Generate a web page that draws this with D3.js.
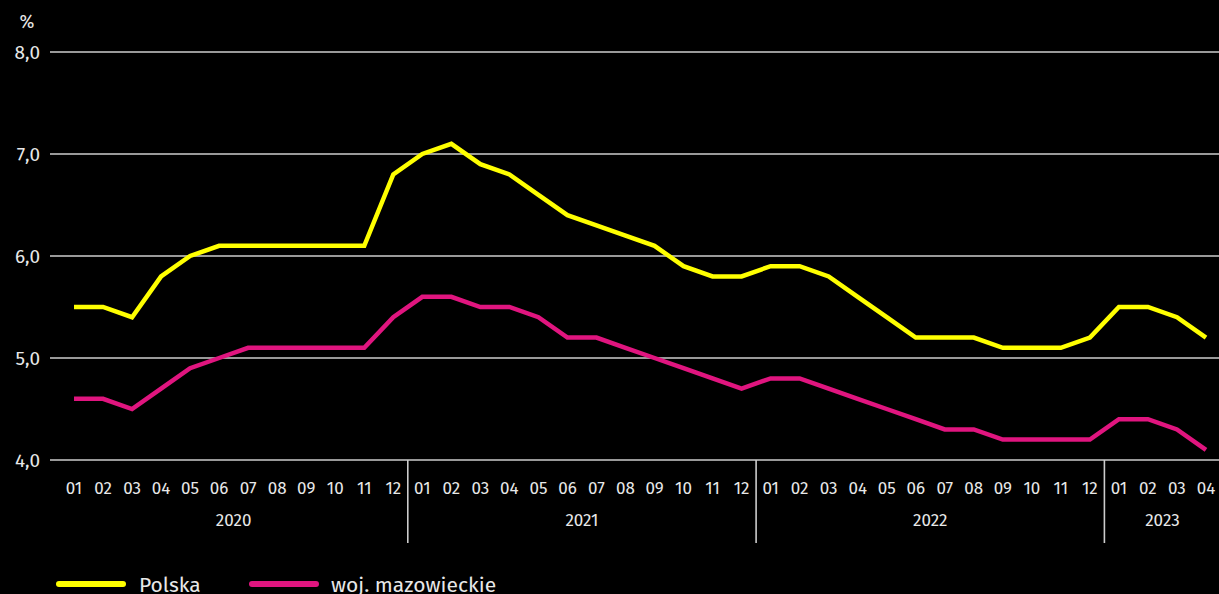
<!DOCTYPE html>
<html><head><meta charset="utf-8">
<script src="https://cdn.jsdelivr.net/npm/d3@7"></script>
<style>
html,body{margin:0;padding:0;background:#000;}
svg{display:block;font-family:"Fira Sans","Open Sans","Noto Sans",sans-serif;}
</style></head>
<body>
<svg id="c" width="1219" height="594"></svg>
<script>
const years = ["2020","2021","2022","2023"];
const monthsPerYear = [12,12,12,4];
const monthLabels = ["01","02","03","04","05","06","07","08","09","10","11","12"];
const polska = [5.5,5.5,5.4,5.8,6.0,6.1,6.1,6.1,6.1,6.1,6.1,6.8,
  7.0,7.1,6.9,6.8,6.6,6.4,6.3,6.2,6.1,5.9,5.8,5.8,
  5.9,5.9,5.8,5.6,5.4,5.2,5.2,5.2,5.1,5.1,5.1,5.2,
  5.5,5.5,5.4,5.2];
const mazowieckie = [4.6,4.6,4.5,4.7,4.9,5.0,5.1,5.1,5.1,5.1,5.1,5.4,
  5.6,5.6,5.5,5.5,5.4,5.2,5.2,5.1,5.0,4.9,4.8,4.7,
  4.8,4.8,4.7,4.6,4.5,4.4,4.3,4.3,4.2,4.2,4.2,4.2,
  4.4,4.4,4.3,4.1];
const yTicks = [4,5,6,7,8];
const seriesNames = ["Polska","woj. mazowieckie"];
const seriesColors = ["#ffff00","#e0157f"];

const cats = [];
years.forEach((y,i)=>{ for(let m=0;m<monthsPerYear[i];m++) cats.push({key:y+"-"+monthLabels[m], year:y, month:monthLabels[m]}); });

const svg = d3.select("#c");
const x = d3.scaleBand().domain(cats.map(d=>d.key)).range([59.5,1220.5]).padding(0);
const y = d3.scaleLinear().domain([4,8]).range([460,52]);
const cx = k => x(k) + x.bandwidth()/2;

// grid
svg.append("g").selectAll("line").data(yTicks).join("line")
  .attr("x1",50).attr("x2",1219).attr("y1",d=>y(d)).attr("y2",d=>y(d))
  .attr("stroke","#cccccc").attr("stroke-width",1.6);
// y labels
svg.append("g").selectAll("text").data(yTicks).join("text")
  .attr("x",40).attr("y",d=>y(d)).attr("dy","0.35em").attr("text-anchor","end")
  .attr("fill","#e8e8e8").attr("font-size",19).text(d=>d.toFixed(1).replace(".",","));
svg.append("text").attr("x",27).attr("y",22).attr("dy","0.35em").attr("text-anchor","middle")
  .attr("fill","#e8e8e8").attr("font-size",18).text("%");

// month labels
svg.append("g").selectAll("text").data(cats).join("text")
  .attr("x",d=>cx(d.key)).attr("y",488).attr("dy","0.35em").attr("text-anchor","middle")
  .attr("fill","#e8e8e8").attr("font-size",17).text(d=>d.month);

// year separators and labels
let idx=0;
const yearInfo = years.map((yr,i)=>{ const s=idx; idx+=monthsPerYear[i]; return {yr, first:cats[s].key, last:cats[idx-1].key}; });
svg.append("g").selectAll("line").data(yearInfo.slice(1)).join("line")
  .attr("x1",d=>x(d.first)).attr("x2",d=>x(d.first)).attr("y1",460).attr("y2",543)
  .attr("stroke","#cccccc").attr("stroke-width",1.6);
svg.append("g").selectAll("text").data(yearInfo).join("text")
  .attr("x",d=>(x(d.first)+x(d.last)+x.bandwidth())/2).attr("y",520).attr("dy","0.35em")
  .attr("text-anchor","middle").attr("fill","#e8e8e8").attr("font-size",17).text(d=>d.yr);

// lines
const line = d3.line().x((d,i)=>cx(cats[i].key)).y(d=>y(d));
[polska,mazowieckie].forEach((s,i)=>{
  svg.append("path").datum(s).attr("d",line).attr("fill","none")
    .attr("stroke",seriesColors[i]).attr("stroke-width",4.5).attr("stroke-linejoin","miter");
});

// legend
const leg = [{x:57,tx:139},{x:250,tx:331}];
seriesNames.forEach((n,i)=>{
  svg.append("line").attr("x1",leg[i].x+2).attr("x2",leg[i].x+66).attr("y1",584).attr("y2",584)
    .attr("stroke",seriesColors[i]).attr("stroke-width",6).attr("stroke-linecap","round");
  svg.append("text").attr("x",leg[i].tx).attr("y",585).attr("dy","0.35em")
    .attr("fill","#e8e8e8").attr("font-size",21).text(n);
});
</script>
</body></html>
